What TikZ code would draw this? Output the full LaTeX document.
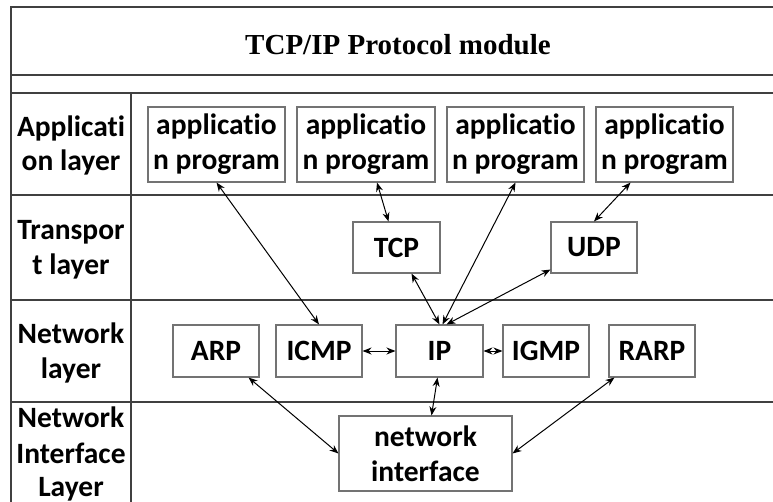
\documentclass[tikz,border=0pt]{standalone}
\usepackage{fontspec}
\newfontfamily\calfont[Ligatures=NoCommon]{Carlito}
\newfontfamily\timesfont{Liberation Serif}
\usetikzlibrary{arrows.meta}
\begin{document}
\begin{tikzpicture}[x=1pt,y=-1pt,
  frame/.style={draw=black!75,line width=1.3pt},
  box/.style={draw=black!55,line width=1.1pt,fill=white,inner sep=0pt,align=center,
    font=\calfont\bfseries\fontsize{29.5}{35}\selectfont},
  lbl/.style={anchor=base,inner sep=0pt,font=\calfont\bfseries\fontsize{29.5}{35}\selectfont},
  link/.style={{Stealth[length=9pt,width=7pt]}-{Stealth[length=9pt,width=7pt]},line width=1pt}
]
\useasboundingbox (0,0) rectangle (773,502);
\fill[white] (0,0) rectangle (773,502);
% frame
\draw[frame] (773,7) -- (11,7) -- (11,502);
\draw[frame] (11,75) -- (773,75);
\draw[frame] (11,93) -- (773,93);
\draw[frame] (11,195) -- (773,195);
\draw[frame] (11,300) -- (773,300);
\draw[frame] (11,402) -- (773,402);
\draw[frame] (131,93) -- (131,502);
% title
\node[anchor=base,inner sep=0pt,font=\timesfont\bfseries\fontsize{29}{34}\selectfont] (title) at (398,55) {TCP/IP Protocol module};
% layer labels
\node[lbl] (l1a) at (71,137) {Applicati};
\node[lbl] (l1b) at (71,171) {on layer};
\node[lbl] (l2a) at (71,240) {Transpor};
\node[lbl] (l2b) at (71,275) {t layer};
\node[lbl] (l3a) at (71,343) {Network};
\node[lbl] (l3b) at (71,378) {layer};
\node[lbl] (l4a) at (71,427) {Network};
\node[lbl] (l4b) at (71,463) {Interface};
\node[lbl] (l4c) at (71,496) {Layer};
% application boxes
\node[box,minimum width=137pt,minimum height=75pt] (app1) at (216.5,144.5) {applicatio\\n program};
\node[box,minimum width=138pt,minimum height=75pt] (app2) at (366,144.5) {applicatio\\n program};
\node[box,minimum width=137pt,minimum height=75pt] (app3) at (515.5,144.5) {applicatio\\n program};
\node[box,minimum width=137pt,minimum height=75pt] (app4) at (664.5,144.5) {applicatio\\n program};
% transport
\node[box,minimum width=87pt,minimum height=51pt] (tcp) at (396.5,247.5) {TCP};
\node[box,minimum width=86pt,minimum height=51pt] (udp) at (594,247.5) {UDP};
% network
\node[box,minimum width=86pt,minimum height=52pt] (arp) at (216,351) {ARP};
\node[box,minimum width=86pt,minimum height=52pt] (icmp) at (319,351) {ICMP};
\node[box,minimum width=87pt,minimum height=52pt] (ip) at (439.5,351) {IP};
\node[box,minimum width=86pt,minimum height=52pt] (igmp) at (546,351) {IGMP};
\node[box,minimum width=86pt,minimum height=52pt] (rarp) at (652,351) {RARP};
% network interface
\node[box,minimum width=173pt,minimum height=75pt] (ni) at (425.5,453.5) {network\\interface};
% links
\draw[link] (app1.south) -- (icmp.north);
\draw[link] ([xshift=11pt]app2.south) -- ([xshift=-8pt]tcp.north);
\draw[link] (app3.south) -- ([xshift=3pt]ip.north);
\draw[link] ([xshift=-34pt]app4.south) -- (udp.north);
\draw[link] ([xshift=15pt]tcp.south) -- (ip.north);
\draw[link] ([yshift=4pt]udp.south west) -- ([xshift=7pt]ip.north);
\draw[link] (icmp.east) -- (ip.west);
\draw[link] (ip.east) -- (igmp.west);
\draw[link] ([xshift=-2pt]ip.south) -- ([xshift=6pt]ni.north);
\draw[link] ([xshift=-11pt]arp.south east) -- (ni.west);
\draw[link] ([xshift=6pt]rarp.south west) -- (ni.east);
\end{tikzpicture}
\end{document}
